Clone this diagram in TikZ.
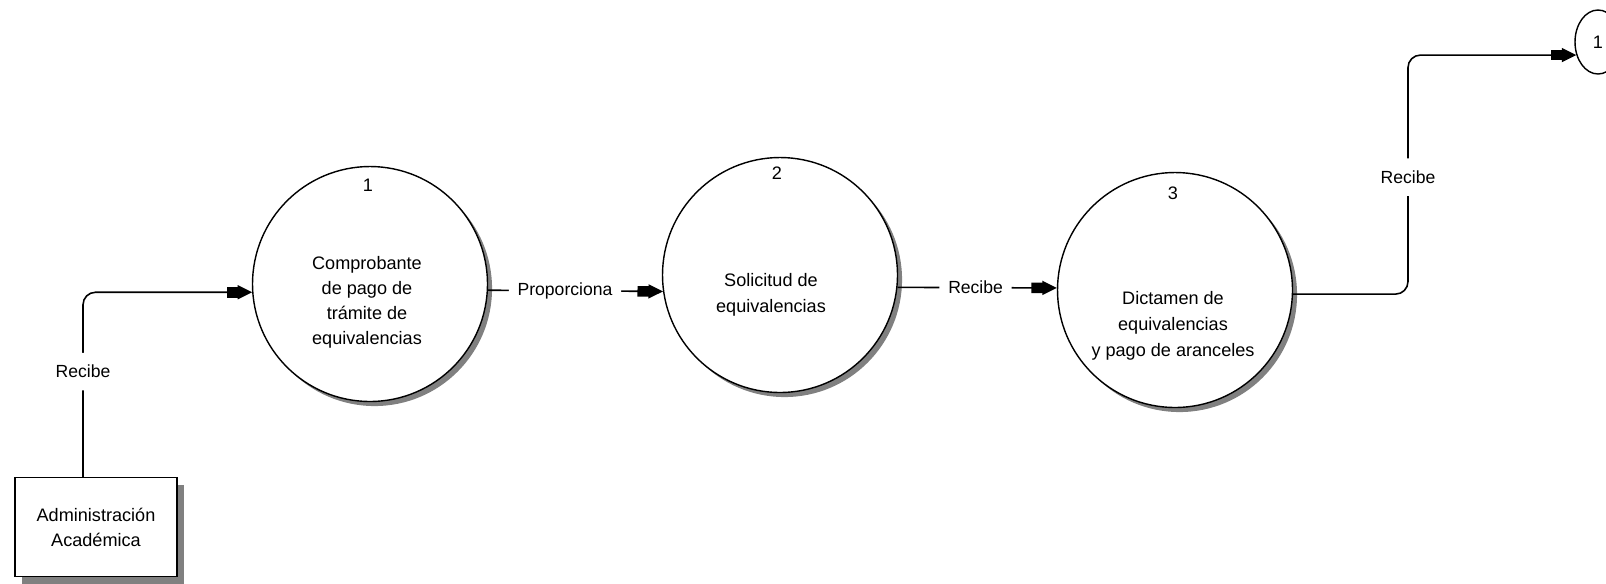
\documentclass[tikz,border=0pt]{standalone}
\usepackage{fontspec}
\setmainfont{Liberation Sans}
\usetikzlibrary{arrows.meta,shadows,shapes.geometric}
\tikzset{
	proc/.style={circle,draw,line width=0.8pt,fill=white,minimum size=4.7cm,inner sep=0pt,
		drop shadow={shadow xshift=2.6pt,shadow yshift=-2.6pt,fill=gray,opacity=1}},
	ent/.style={rectangle,draw,line width=0.8pt,fill=white,minimum width=3.24cm,minimum height=1.98cm,
		drop shadow={shadow xshift=4pt,shadow yshift=-4pt,fill=gray,opacity=1}},
	conn/.style={ellipse,draw,line width=0.8pt,fill=white,inner sep=0pt,
		minimum width=0.92cm,minimum height=1.28cm},
	flow/.style={line width=0.9pt,rounded corners=0.25cm,
		-{Rectangle[length=2.6mm,width=2.1mm,sep=-0.4mm]Triangle[length=2.9mm,width=2.8mm]}},
	lbl/.style={fill=white,inner xsep=5pt,inner ysep=7pt},
	txt/.style={align=center,font=\fontsize{10.3}{14.8}\selectfont},
}
\begin{document}
\begin{tikzpicture}[x=0.02cm,y=-0.02cm]
	% page size, origin top left
	\useasboundingbox (0,0) rectangle (1606,583);
	% processes
	\node[proc] (c1) at (370,284) {};
	\node[proc] (c2) at (780,275) {};
	\node[proc] (c3) at (1175,290) {};
	% process numbers
	\node[txt] (n1) at (368,185) {1};
	\node[txt] (n2) at (777,173) {2};
	\node[txt] (n3) at (1173,193) {3};
	% process texts
	\node[txt,font=\fontsize{10.3}{14.2}\selectfont] (t1) at (367,302) {Comprobante\\de pago de\\trámite de\\equivalencias};
	\node[txt] (t2) at (771,295) {Solicitud de\\equivalencias};
	\node[txt] (t3) at (1173,326) {Dictamen de\\equivalencias\\y pago de aranceles};
	% external entity
	\node[ent,txt,font=\fontsize{10.3}{14.2}\selectfont] (adm) at (96,527) {Administración\\Académica};
	% off-page connector
	\node[conn,txt] (off) at (1598,42) {1};
	\coordinate (riser) at (1408,177);
	% flows
	\draw[flow] ([xshift=-0.26cm]adm.north) |- node[lbl,pos=0.285] {Recibe} (c1.184.9);
	\draw[flow] (c1.-3.9) -- node[lbl,pos=0.44] {Proporciona} (c2.188.4);
	\draw[flow] (c2.-6.4) -- node[lbl,pos=0.49] {Recibe} (c3.179);
	\draw[flow] (c3.-2.4) -| (riser) node[lbl] {Recibe} |- (off.211);
\end{tikzpicture}
\end{document}
